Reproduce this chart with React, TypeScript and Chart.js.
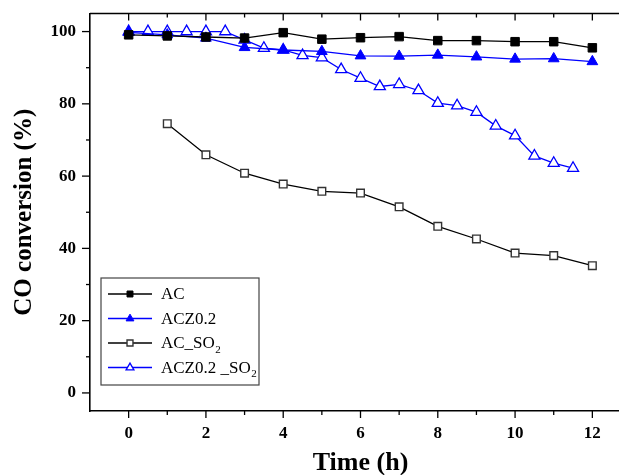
import React, { useEffect, useRef } from "react";
import { Chart, registerables } from "chart.js";

Chart.register(...registerables);

// ---- data ----
const acTimes = [0, 1, 2, 3, 4, 5, 6, 7, 8, 9, 10, 11, 12];
const acValues = [99.1, 98.8, 98.5, 98.2, 99.7, 97.9, 98.3, 98.6, 97.5, 97.5, 97.2, 97.2, 95.5];

const acz02Times = [0, 1, 2, 3, 4, 5, 6, 7, 8, 9, 10, 11, 12];
const acz02Values = [99.8, 99.1, 98.2, 95.6, 94.9, 94.5, 93.3, 93.2, 93.5, 93.0, 92.4, 92.5, 91.7];

const acSo2Times = [1, 2, 3, 4, 5, 6, 7, 8, 9, 10, 11, 12];
const acSo2Values = [74.5, 65.9, 60.8, 57.8, 55.8, 55.3, 51.5, 46.1, 42.6, 38.7, 38.0, 35.2];

const acz02So2Times = [0, 0.5, 1, 1.5, 2, 2.5, 3, 3.5, 4, 4.5, 5, 5.5, 6, 6.5, 7, 7.5, 8, 8.5, 9, 9.5, 10, 10.5, 11, 11.5];
const acz02So2Values = [100, 100, 100, 100, 100, 100, 97.7, 95.4, 94.9, 93.4, 92.8, 89.5, 87.1, 84.8, 85.4, 83.7, 80.2, 79.5, 77.7, 73.9, 71.2, 65.6, 63.6, 62.2];

const seriesLabels = ["AC", "ACZ0.2", "AC_SO₂", "ACZ0.2 _SO₂"];

const xMajorTicks = [0, 2, 4, 6, 8, 10, 12];
const xMinorTicks = [1, 3, 5, 7, 9, 11];
const yMajorTicks = [0, 20, 40, 60, 80, 100];
const yMinorTicks = [10, 30, 50, 70, 90];

const xTitle = "Time (h)";
const yTitle = "CO conversion (%)";

const FONT = "'Liberation Serif', 'Times New Roman', serif";
const BLUE = "#0000ff";

const toPoints = (xs: number[], ys: number[]) => xs.map((x, i) => ({ x, y: ys[i] }));

const framePlugin = {
  id: "frame",
  afterDraw(chart: any) {
    const { ctx, chartArea: a, scales } = chart;
    const x = scales.x;
    const y = scales.y;
    ctx.save();
    ctx.strokeStyle = "#000";
    ctx.lineWidth = 1.6;
    ctx.beginPath();
    ctx.moveTo(a.left, a.top);
    ctx.lineTo(a.right, a.top);
    ctx.stroke();
    ctx.lineWidth = 1.3;
    const seg = (x1: number, y1: number, x2: number, y2: number) => {
      ctx.beginPath();
      ctx.moveTo(x1, y1);
      ctx.lineTo(x2, y2);
      ctx.stroke();
    };
    xMajorTicks.forEach((v) => {
      const p = x.getPixelForValue(v);
      seg(p, a.bottom, p, a.bottom + 7);
      seg(p, a.top, p, a.top + 7);
    });
    xMinorTicks.forEach((v) => {
      const p = x.getPixelForValue(v);
      seg(p, a.bottom, p, a.bottom + 4);
      seg(p, a.top, p, a.top + 4);
    });
    yMajorTicks.forEach((v) => {
      const p = y.getPixelForValue(v);
      seg(a.left - 8, p, a.left, p);
    });
    yMinorTicks.forEach((v) => {
      const p = y.getPixelForValue(v);
      seg(a.left - 4, p, a.left, p);
    });
    ctx.restore();
  },
};

const legendPlugin = {
  id: "boxLegend",
  afterDraw(chart: any) {
    const { ctx, chartArea: a } = chart;
    const left = a.left + 11;
    const top = a.bottom - 133;
    const w = 158;
    const h = 107;
    ctx.save();
    ctx.fillStyle = "#fff";
    ctx.fillRect(left, top, w, h);
    ctx.strokeStyle = "#444";
    ctx.lineWidth = 1.2;
    ctx.strokeRect(left, top, w, h);
    chart.data.datasets.forEach((ds: any, i: number) => {
      const cy = top + 16 + i * 24.5;
      const x1 = left + 7;
      const x2 = left + 51;
      ctx.strokeStyle = ds.borderColor;
      ctx.lineWidth = 1.3;
      ctx.beginPath();
      ctx.moveTo(x1, cy);
      ctx.lineTo(x2, cy);
      ctx.stroke();
      const r = ds.pointStyle === "rect" ? 4.2 : 4.6;
      ctx.fillStyle = ds.pointBackgroundColor;
      ctx.strokeStyle = ds.pointBorderColor;
      ctx.lineWidth = ds.pointBorderWidth;
      const mx = (x1 + x2) / 2;
      ctx.beginPath();
      if (ds.pointStyle === "rect") {
        const s = r * Math.SQRT1_2;
        ctx.rect(mx - s, cy - s, 2 * s, 2 * s);
      } else {
        ctx.moveTo(mx, cy - r * 0.95);
        ctx.lineTo(mx + r * 0.85, cy + r * 0.52);
        ctx.lineTo(mx - r * 0.85, cy + r * 0.52);
        ctx.closePath();
      }
      ctx.fill();
      ctx.stroke();
      const label: string = ds.label;
      ctx.fillStyle = "#000";
      ctx.textBaseline = "middle";
      ctx.textAlign = "left";
      ctx.font = `17px ${FONT}`;
      const parts = label.split("₂");
      let tx = left + 60;
      ctx.fillText(parts[0], tx, cy + 1);
      tx += ctx.measureText(parts[0]).width;
      if (parts.length > 1) {
        ctx.font = `11px ${FONT}`;
        ctx.fillText("2", tx + 0.5, cy + 7);
      }
    });
    ctx.restore();
  },
};

export default function App() {
  const ref = useRef<HTMLCanvasElement | null>(null);
  useEffect(() => {
    document.body.style.margin = "0";
    document.body.style.overflow = "hidden";
    const canvas = ref.current;
    if (!canvas) return;
    const chart = new Chart(canvas, {
      type: "scatter",
      data: {
        datasets: [
          {
            label: seriesLabels[0],
            data: toPoints(acTimes, acValues),
            showLine: true,
            borderColor: "#000",
            borderWidth: 1.3,
            pointStyle: "rect",
            pointRadius: 6,
            pointBackgroundColor: "#000",
            pointBorderColor: "#000",
            pointBorderWidth: 1,
          },
          {
            label: seriesLabels[1],
            data: toPoints(acz02Times, acz02Values),
            showLine: true,
            borderColor: BLUE,
            borderWidth: 1.3,
            pointStyle: "triangle",
            pointRadius: 6.2,
            pointBackgroundColor: BLUE,
            pointBorderColor: BLUE,
            pointBorderWidth: 1,
          },
          {
            label: seriesLabels[2],
            data: toPoints(acSo2Times, acSo2Values),
            showLine: true,
            borderColor: "#000",
            borderWidth: 1.3,
            pointStyle: "rect",
            pointRadius: 5.4,
            pointBackgroundColor: "#fff",
            pointBorderColor: "#333",
            pointBorderWidth: 1.4,
          },
          {
            label: seriesLabels[3],
            data: toPoints(acz02So2Times, acz02So2Values),
            showLine: true,
            borderColor: BLUE,
            borderWidth: 1.3,
            pointStyle: "triangle",
            pointRadius: 6.4,
            pointBackgroundColor: "#fff",
            pointBorderColor: BLUE,
            pointBorderWidth: 1.3,
          },
        ],
      },
      options: {
        animation: false,
        responsive: false,
        layout: { autoPadding: false, padding: { top: 13.5, right: 0, left: 0, bottom: 0 } },
        plugins: {
          legend: { display: false },
          tooltip: { enabled: false },
        },
        scales: {
          x: {
            type: "linear",
            min: -1,
            max: 13,
            afterFit: (s: any) => {
              s.height = 64;
              s.paddingLeft = 0;
              s.paddingRight = 0;
            },
            afterBuildTicks: (s: any) => {
              s.ticks = xMajorTicks.map((v) => ({ value: v }));
            },
            grid: { display: false, drawTicks: false },
            border: { display: true, color: "#000", width: 1.6 },
            ticks: {
              padding: 12,
              color: "#000",
              font: { family: FONT, size: 17, weight: "bold" },
              callback: (v: any) => String(v),
            },
            title: {
              display: true,
              text: xTitle,
              color: "#000",
              padding: { top: 0, bottom: 0 },
              font: { family: FONT, size: 26, weight: "bold", lineHeight: 0.9 },
            },
          },
          y: {
            type: "linear",
            min: -5,
            max: 105,
            afterFit: (s: any) => {
              s.width = 90;
              s.paddingTop = 0;
              s.paddingBottom = 0;
            },
            afterBuildTicks: (s: any) => {
              s.ticks = yMajorTicks.map((v) => ({ value: v }));
            },
            grid: { display: false, drawTicks: false },
            border: { display: true, color: "#000", width: 1.6 },
            ticks: {
              padding: 14,
              color: "#000",
              font: { family: FONT, size: 17, weight: "bold" },
              callback: (v: any) => String(v),
            },
            title: {
              display: true,
              text: yTitle,
              color: "#000",
              padding: { top: 10, bottom: 0 },
              font: { family: FONT, size: 25, weight: "bold", lineHeight: 1.2 },
            },
          },
        },
      },
      plugins: [framePlugin, legendPlugin],
    } as any);
    return () => chart.destroy();
  }, []);
  return (
    <div style={{ width: 619, height: 475, overflow: "hidden" }}>
      <canvas ref={ref} width={631} height={475} style={{ display: "block" }} />
    </div>
  );
}
